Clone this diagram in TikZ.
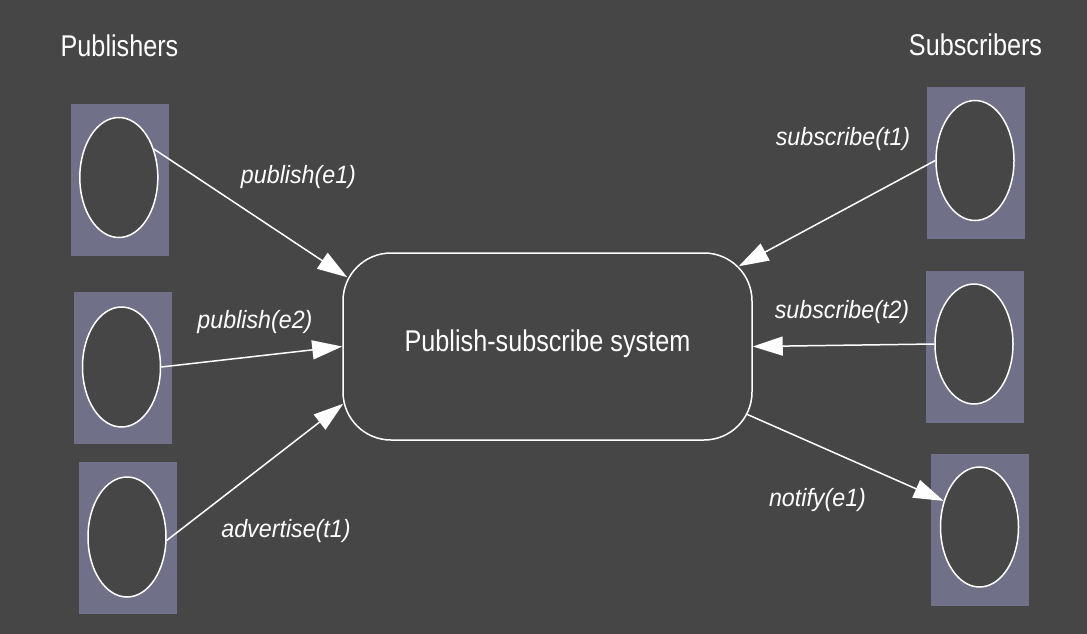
\documentclass[tikz,border=0pt]{standalone}
\usepackage{fontspec}
\usepackage{tikz}
\usetikzlibrary{shapes.geometric,arrows.meta}
\newfontfamily\sysfont[FakeStretch=0.84]{Liberation Sans}
\newfontfamily\msgfont[FakeStretch=0.93]{Liberation Sans}
\definecolor{bggray}{RGB}{70,70,70}
\definecolor{boxgray}{RGB}{112,112,136}
\tikzset{
  party/.style={fill=boxgray, minimum width=98pt, minimum height=152pt, inner sep=0pt},
  actor/.style={ellipse, draw=white, fill=bggray, line width=1.5pt, minimum width=78pt, minimum height=120pt, inner sep=0pt},
  msg/.style={draw=white, line width=1.5pt, -{Triangle[length=30pt,width=19pt]}},
  msglabel/.style={anchor=base, text=white, font=\msgfont\itshape\fontsize{25}{30}\selectfont},
  title/.style={anchor=base, text=white, font=\sysfont\fontsize{30}{36}\selectfont}
}
\begin{document}
\begin{tikzpicture}[x=1pt,y=-1pt]

    \fill[bggray] (0,0) rectangle (1087,634);

    \node [party] (pb1) at (120,180) {};
    \node [party] (pb2) at (122.5,368) {};
    \node [party] (pb3) at (128,538) {};
    \node [party] (sb1) at (976,162.5) {};
    \node [party] (sb2) at (975,346.5) {};
    \node [party] (sb3) at (980,529.5) {};

    \node [actor] (p1) at (118.8,177.5) {};
    \node [actor] (p2) at (121.5,367) {};
    \node [actor] (p3) at (127,537) {};
    \node [actor] (s1) at (975,160.5) {};
    \node [actor] (s2) at (974,344) {};
    \node [actor] (s3) at (979.5,527) {};

    \node [draw=white, line width=1.5pt, rounded corners=48pt, minimum width=409pt, minimum height=187pt,
           text height=22pt, text depth=12pt,
           text=white, font=\sysfont\fontsize{30}{36}\selectfont] (sys) at (547.5,346.5) {Publish-subscribe system};

    \draw[msg] (p1.39) -- ([xshift=5pt,yshift=-25pt]sys.north west);
    \draw[msg] (p2.east) -- (sys.west);
    \draw[msg] (p3.-5) -- ([xshift=1pt,yshift=37pt]sys.south west);
    \draw[msg] (s1.west) -- ([xshift=-14pt,yshift=-14pt]sys.north east);
    \draw[msg] (s2.west) -- (sys.east);
    \draw[msg] ([xshift=-7pt,yshift=27pt]sys.south east) -- (s3.144);

    \node [title] (pubs) at (119.5,57) {Publishers};
    \node [title] (subs) at (975.5,56) {Subscribers};

    \node [msglabel] (m1) at (298.5,183) {publish(e1)};
    \node [msglabel] (m2) at (255,328.3) {publish(e2)};
    \node [msglabel] (m3) at (286,537.3) {advertise(t1)};
    \node [msglabel] (m4) at (843,145) {subscribe(t1)};
    \node [msglabel] (m5) at (842,318.3) {subscribe(t2)};
    \node [msglabel] (m6) at (817.5,506.7) {notify(e1)};

\end{tikzpicture}
\end{document}
